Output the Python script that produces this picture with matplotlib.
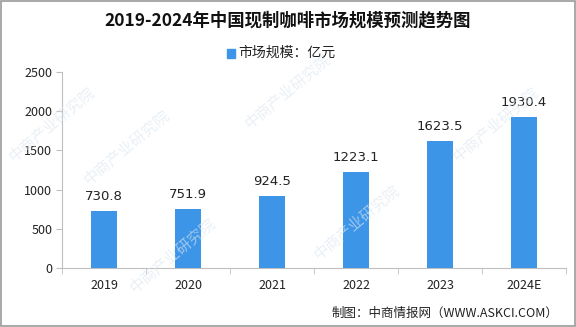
import matplotlib
matplotlib.use("Agg")
import matplotlib.pyplot as plt
from matplotlib.patches import Rectangle

plt.rcParams['font.family'] = ['Noto Sans CJK SC', 'DejaVu Sans']

years = ['2019', '2020', '2021', '2022', '2023', '2024E']
market_size = [730.8, 751.9, 924.5, 1223.1, 1623.5, 1930.4]
yticks = [0, 500, 1000, 1500, 2000, 2500]

bar_color = '#3D95E8'
axis_color = '#BFBFBF'

fig = plt.figure(figsize=(5.76, 3.27), dpi=100)
ax = fig.add_axes([62 / 576, 1 - 268 / 327, 504 / 576, 196 / 327])

x = list(range(len(years)))
ax.bar(x, market_size, width=0.31, color=bar_color, zorder=3)
for xi, v in zip(x, market_size):
    ax.text(xi, v + 100, f'{v:.1f}', ha='center', va='bottom', fontsize=9.5,
            color='#222222', family=['DejaVu Sans'])

ax.set_xlim(-0.5, len(years) - 0.5)
ax.set_ylim(0, 2500)
ax.set_yticks(yticks)
ax.set_yticklabels([str(t) for t in yticks], fontsize=9, color='#222222')
ax.set_xticks(x)
ax.set_xticklabels(years, fontsize=9, color='#222222')
ax.set_xticks([i + 0.5 for i in range(-1, len(years))], minor=True)

for s in ['top', 'right']:
    ax.spines[s].set_visible(False)
for s in ['left', 'bottom']:
    ax.spines[s].set_color(axis_color)
ax.tick_params(axis='y', length=4, color=axis_color, pad=3)
ax.tick_params(axis='x', which='major', length=0, pad=8)
ax.tick_params(axis='x', which='minor', length=4, color=axis_color)

# faint watermarks
for wx, wy in [(0.22, 0.55), (0.50, 0.72), (0.62, 0.32), (0.86, 0.62), (0.30, 0.22), (0.09, 0.62)]:
    fig.text(wx, wy, '中商产业研究院', fontsize=11, color='#DCE6EF', alpha=0.6,
             rotation=40, ha='center', va='center', zorder=0)

fig.text(0.5, 1 - 20 / 327, '2019-2024年中国现制咖啡市场规模预测趋势图', ha='center',
         va='center', fontsize=12.5, fontweight='bold', color='#111111')

fig.patches.append(Rectangle((227 / 576, 1 - 58 / 327), 8 / 576, 9 / 327,
                             transform=fig.transFigure, color=bar_color))
fig.text(238 / 576, 1 - 53 / 327, '市场规模：亿元', ha='left', va='center',
         fontsize=10, color='#222222')

fig.text(332 / 576, 1 - 313 / 327, '制图：中商情报网（WWW.ASKCI.COM）', ha='left',
         va='center', fontsize=9, color='#222222')

fig.patches.append(Rectangle((0.001, 0.002), 0.997, 0.995, transform=fig.transFigure,
                             fill=False, edgecolor='#999999', linewidth=1.2))

fig.savefig('out.png', dpi=100)
